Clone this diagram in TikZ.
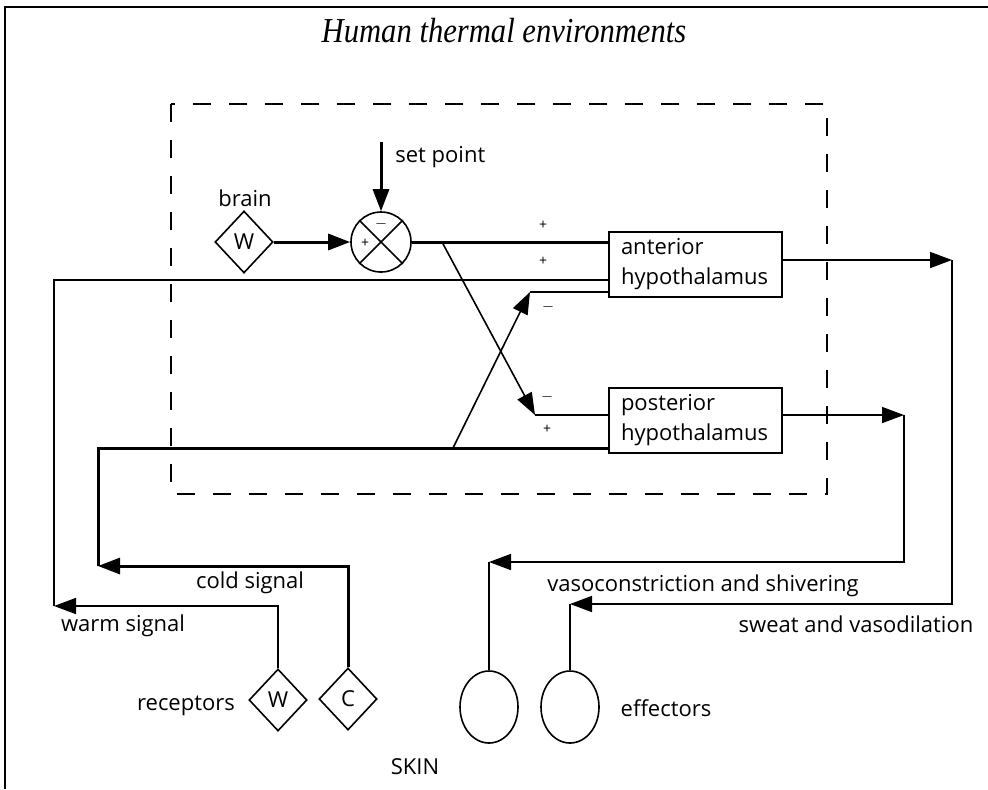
\documentclass[tikz,border=0pt]{standalone}
\usepackage{fontspec}
\usetikzlibrary{shapes.geometric,arrows.meta}
\newfontfamily\labfont{Open Sans}
\newfontfamily\titlefont{Liberation Serif}
\tikzset{
  thinline/.style={line width=0.8pt},
  thickline/.style={line width=1.5pt},
  arr/.style={-{Triangle[length=11pt,width=8pt]}},
  diam/.style={draw, diamond, thinline, minimum width=29pt, minimum height=31pt, inner sep=0pt, font=\labfont\fontsize{11}{13}\selectfont},
  hbox/.style={draw, rectangle, thinline, minimum width=86.5pt, minimum height=32.5pt, text width=74.5pt, inner xsep=6pt, inner ysep=0pt, align=left, font=\labfont\fontsize{11}{15}\selectfont},
  eff/.style={draw, ellipse, thinline, minimum width=29pt, minimum height=36pt, inner sep=0pt},
  sumj/.style={draw, circle, thinline, minimum size=30pt, inner sep=0pt},
  lbl/.style={font=\labfont\fontsize{11}{13}\selectfont, inner sep=0pt},
  pm/.style={font=\labfont\fontsize{7}{8}\selectfont, inner sep=0pt},
  dashbox/.style={line width=1pt, dash pattern=on 9pt off 9pt},
}
\begin{document}
\begin{tikzpicture}[x=0.5pt,y=-0.5pt]
\useasboundingbox (0,0) rectangle (988,789);
% frame
\draw[line width=1pt] (5,789) -- (5,7) -- (988,7);
\node[inner sep=0pt, anchor=base] (title) at (504,42) {\scalebox{0.875}[1]{\titlefont\itshape\fontsize{17.5}{20}\selectfont Human thermal environments}};
% dashed box
\draw[dashbox] (171,104) rectangle (827,494);
% nodes
\node[diam] (brainW) at (244,242) {W};
\node[lbl] (brain) at (245,198) {brain};
\node[sumj] (sum) at (381,242) {};
\draw[thinline] (sum.45) -- (sum.225) (sum.135) -- (sum.315);
\node[pm] (summinus) at (381,224) {$-$};
\node[pm] (sumplus) at (365,243) {+};
\coordinate (sp) at (381,142);
\node[lbl, anchor=west] (setpoint) at (395,157) {set point};
\node[hbox] (ant) at (695.5,264.5) {anterior\\hypothalamus};
\node[hbox] (post) at (695.5,420.5) {posterior\\hypothalamus};
\node[diam] (recW) at (278,700) {W};
\node[diam] (recC) at (348,699) {C};
\node[lbl] (receptors) at (186,706) {receptors};
\node[eff] (eff1) at (489,707) {};
\node[eff] (eff2) at (570,707) {};
\node[lbl] (effectors) at (666,708) {effectors};
\node[lbl] (skin) at (415,767) {SKIN};
\node[lbl] (cold) at (250,583) {cold signal};
\node[lbl] (warm) at (123,626) {warm signal};
\node[lbl] (vaso) at (703,586) {vasoconstriction and shivering};
\node[lbl] (sweat) at (856,624) {sweat and vasodilation};
% signs at hypothalamus inputs
\node[pm] (p1) at (543,225) {+};
\node[pm] (p2) at (543,261) {+};
\node[pm] (m1) at (548,307) {$-$};
\node[pm] (m2) at (547,397) {$-$};
\node[pm] (p3) at (547,429) {+};
% coordinates
\coordinate (antIn1) at (609,242);
\coordinate (antIn2) at (609,280);
\coordinate (antIn3) at (609,292);
\coordinate (postIn1) at (609,415);
\coordinate (postIn2) at (609,448);
\coordinate (antOut) at (782,260);
\coordinate (postOut) at (782,415);
\coordinate (split) at (442,242);
\coordinate (cornA) at (530,292);
\coordinate (cornB) at (535,415);
\coordinate (coldSplit) at (453,448);
\coordinate (warmUp) at (278,606);
\coordinate (warmL) at (54,606);
\coordinate (warmT) at (54,280);
\coordinate (coldUp) at (348,566);
\coordinate (coldL) at (98,566);
\coordinate (coldT) at (98,448);
\coordinate (aR) at (952,260);
\coordinate (aD) at (952,604);
\coordinate (aL) at (570,604);
\coordinate (pR) at (904,415);
\coordinate (pD) at (904,562);
\coordinate (pL) at (489,562);
% connectors
\draw[thickline, arr] (brainW.east) -- (sum.west);
\draw[thickline, arr] (sp) -- (sum.north);
\draw[thickline] (sum.east) -- (antIn1);
\draw[thinline, arr] (split) -- (cornB);
\draw[thinline] (cornB) -- (postIn1);
\draw[thinline, arr] (coldSplit) -- (cornA);
\draw[thinline] (cornA) -- (antIn3);
\draw[thinline, arr] (recW.north) -- (warmUp) -- (warmL);
\draw[thinline] (warmL) -- (warmT) -- (antIn2);
\draw[thickline, arr] (recC.north) -- (coldUp) -- (coldL);
\draw[thickline] (coldL) -- (coldT) -- (postIn2);
\draw[thinline, arr] (antOut) -- (aR);
\draw[thinline, arr] (aR) -- (aD) -- (aL);
\draw[thinline] (aL) -- (eff2.north);
\draw[thinline, arr] (postOut) -- (pR);
\draw[thinline, arr] (pR) -- (pD) -- (pL);
\draw[thinline] (pL) -- (eff1.north);
\end{tikzpicture}
\end{document}
